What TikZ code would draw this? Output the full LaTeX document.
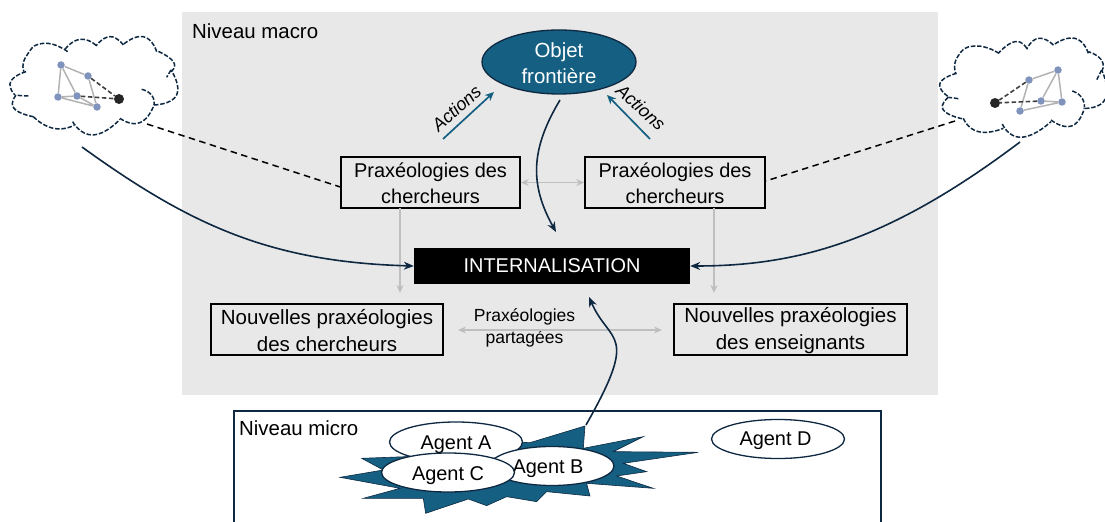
\documentclass[tikz,border=0pt]{standalone}
\usepackage{fontspec}
\setmainfont{Liberation Sans}
\usetikzlibrary{arrows.meta,shapes.geometric}
\definecolor{teal}{HTML}{156082}
\definecolor{navy}{HTML}{0E2841}
\definecolor{panel}{HTML}{E8E8E8}
\definecolor{arrowgray}{HTML}{BFBFBF}
\definecolor{dot}{HTML}{7F93BC}
\tikzset{
  x=1bp,y=-1bp,
  base/.style={font=\fontsize{20}{26.5}\selectfont},
  wide/.style={font=\fontsize{20.6}{26.5}\selectfont},
  praxbox/.style={draw=black,line width=1.5bp,fill=none,align=center,minimum height=51bp,inner sep=0pt},
  agent/.style={base,ellipse,draw=navy,line width=1.3bp,fill=white,inner sep=0pt},
  grayarrow/.style={draw=arrowgray,line width=1.6bp,-{Stealth[length=8bp,width=7bp]}},
  grayboth/.style={draw=arrowgray,line width=1.6bp,{Stealth[length=8bp,width=7bp]}-{Stealth[length=8bp,width=7bp]}},
  navyarrow/.style={draw=navy,line width=1.6bp,-{Stealth[length=10bp,width=8bp]}},
  actionarrow/.style={draw=teal,line width=1.7bp,-{Stealth[length=9bp,width=8bp]}},
  dashline/.style={draw=black,line width=1.5bp,dash pattern=on 6.5bp off 4.5bp},
  cloudline/.style={draw=navy,line width=1.5bp,dash pattern=on 4.5bp off 1.8bp},
  lobe/.style={cloudline,smooth,tension=1},
  mesh/.style={draw=black!30,line width=1.5bp},
  meshdash/.style={draw=black!75,line width=1.6bp,dash pattern=on 4.5bp off 2.5bp},
  meshdot/.style={circle,fill=dot,inner sep=0pt,minimum size=7.5bp},
  blackdot/.style={circle,fill=black!85,inner sep=0pt,minimum size=10bp},
  label/.style={anchor=west,inner sep=0pt,font=\fontsize{20.5}{26}\selectfont}
}
\begin{document}
\begin{tikzpicture}
\useasboundingbox (0,0) rectangle (1105,522);
\fill[panel] (182,12) rectangle (938,395);
\draw[navy,line width=1.6bp] (234,522)--(234,411)--(881,411)--(881,522);
\node[label] (macro) at (192,31) {Niveau macro};
\node[label] (micro) at (239,428) {Niveau micro};
% left cloud
\begin{scope}[shift={(0,20)},x=0.3333bp,y=-0.3333bp]
\draw[lobe] plot coordinates {(78,155) (32,185) (45,225)};
\draw[cloudline] (85,228) -- (48,226);
\draw[lobe] plot coordinates {(48,226) (42,265) (100,290)};
\draw[lobe] plot coordinates {(100,290) (160,325) (222,316)};
\draw[lobe] plot coordinates {(218,305) (280,345) (360,298)};
\draw[lobe] plot coordinates {(360,295) (420,308) (462,255)};
\draw[lobe] plot coordinates {(425,208) (455,225) (462,255)};
\draw[lobe] plot coordinates {(462,255) (530,225) (513,150)};
\draw[cloudline] (513,150) -- (500,172);
\draw[lobe] plot coordinates {(513,155) (520,125) (470,92)};
\draw[lobe] plot coordinates {(470,95) (430,50) (368,75)};
\draw[lobe] plot coordinates {(370,75) (330,50) (288,78)};
\draw[lobe] plot coordinates {(288,76) (240,58) (195,88)};
\draw[lobe] plot coordinates {(203,95) (130,70) (78,110) (72,155)};
\end{scope}
% right cloud
\begin{scope}[shift={(925,20)},x=0.3333bp,y=-0.3333bp]
\draw[lobe] plot coordinates {(95,160) (45,190) (70,230)};
\draw[cloudline] (100,236) -- (70,232);
\draw[lobe] plot coordinates {(70,232) (55,270) (115,297)};
\draw[lobe] plot coordinates {(115,295) (160,335) (235,325)};
\draw[lobe] plot coordinates {(232,312) (290,352) (378,305)};
\draw[lobe] plot coordinates {(378,300) (440,318) (478,265)};
\draw[lobe] plot coordinates {(442,213) (470,232) (478,262)};
\draw[lobe] plot coordinates {(480,265) (542,235) (530,150)};
\draw[cloudline] (530,150) -- (515,180);
\draw[lobe] plot coordinates {(530,155) (530,120) (490,95)};
\draw[lobe] plot coordinates {(490,100) (450,55) (385,75)};
\draw[lobe] plot coordinates {(385,75) (340,55) (305,88)};
\draw[lobe] plot coordinates {(305,85) (270,65) (220,100)};
\draw[lobe] plot coordinates {(222,100) (150,78) (98,110) (92,160)};
\end{scope}
% left mesh
\node[meshdot] (la) at (61,65) {};
\node[meshdot] (lb) at (88,76) {};
\node[meshdot] (lc) at (58,97) {};
\node[meshdot] (ld) at (77,96) {};
\node[meshdot] (le) at (97,107) {};
\node[blackdot] (lk) at (119,99) {};
\draw[mesh] (la)--(lb) (la)--(lc) (la)--(ld) (lb)--(le) (lc)--(ld) (lc)--(le) (ld)--(le);
\draw[meshdash] (lb)--(lk) (ld)--(lk);
% right mesh
\node[meshdot] (ra) at (1058,70) {};
\node[meshdot] (rb) at (1029,80) {};
\node[meshdot] (rc) at (1062,102) {};
\node[meshdot] (rd) at (1041,101) {};
\node[meshdot] (re) at (1020,111) {};
\node[blackdot] (rk) at (995,103) {};
\draw[mesh] (ra)--(rb) (ra)--(rc) (ra)--(rd) (rb)--(re) (re)--(rc) (rd)--(rc);
\draw[meshdash] (rb)--(rk) (rd)--(rk);
% main nodes
\node[ellipse,fill=teal,draw=navy,line width=1.3bp,minimum width=154bp,minimum height=64bp,inner sep=0pt] (objet) at (559,62) {};
\node[text=white,align=center,inner sep=0pt,font=\fontsize{20.5}{26.5}\selectfont] (objett) at (559,63.5) {Objet\\frontière};
\node[praxbox,minimum width=179bp] (p1) at (430.5,182.5) {};
\node[base,align=center,inner sep=0pt] (p1t) at (430.5,183.5) {Praxéologies des\\chercheurs};
\node[praxbox,minimum width=180bp] (p2) at (675,182.5) {};
\node[base,align=center,inner sep=0pt] (p2t) at (675,183.5) {Praxéologies des\\chercheurs};
\node[base,fill=black,text=white,minimum width=276bp,minimum height=36bp,inner sep=0pt] (int) at (552,266) {INTERNALISATION};
\node[praxbox,minimum width=232bp] (n1) at (327,329.5) {};
\node[wide,align=center,inner sep=0pt] (n1t) at (327,330.5) {Nouvelles praxéologies\\des chercheurs};
\node[praxbox,minimum width=233bp] (n2) at (790.5,329.5) {};
\node[wide,align=center,inner sep=0pt] (n2t) at (790.5,330.5) {Nouvelles praxéologies\\des enseignants};
\node[font=\fontsize{17.6}{22}\selectfont,align=center,inner sep=0pt] (shared) at (524.5,328) {Praxéologies\\partagées};
% gray arrows
\coordinate (p1b) at (400,208); \coordinate (p1e) at (400,293);
\coordinate (p2b) at (714,208); \coordinate (p2e) at (714,293);
\coordinate (sl) at (458,330); \coordinate (sr) at (662,330);
\draw[grayarrow] (p1b)--(p1e);
\draw[grayarrow] (p2b)--(p2e);
\draw[grayboth] (p1.east)--(p2.west);
\draw[grayboth] (sl)--(sr);
% actions
\coordinate (al) at (443,139); \coordinate (alt) at (494,92);
\coordinate (ar) at (650,139); \coordinate (art) at (607,95);
\draw[actionarrow] (al)--(alt);
\draw[actionarrow] (ar)--(art);
\node[font=\fontsize{18}{20}\selectfont\itshape,rotate=42,inner sep=0pt] (actl) at (456.5,108.5) {Actions};
\node[font=\fontsize{18}{20}\selectfont\itshape,rotate=-42,inner sep=0pt] (actr) at (641,107.5) {Actions};
% dashed links
\coordinate (cl) at (147,124); \coordinate (cr) at (955,121);
\draw[dashline] (cl)--(p1.west |- 0,187);
\draw[dashline] (cr)--(p2.east |- 0,181);
% starburst
\begin{scope}[shift={(330,400)},x=0.3333bp,y=-0.3333bp]
\fill[teal,draw=navy,line width=0.6bp] (600,128)--(765,78)--(760,145)--(940,110)--(850,155)--(1105,157)--(880,190)--(950,215)--(860,228)--(970,265)--(770,250)--(780,288)--(650,275)--(620,305)--(530,290)--(470,317)--(415,297)--(287,340)--(280,295)--(100,295)--(210,265)--(30,232)--(160,210)--(95,175)--(230,170)--(400,120)--cycle;
\end{scope}
\node[agent,minimum width=133bp,minimum height=40bp] (aa) at (456,442) {};
\node[base,inner sep=0pt] (aat) at (456,445) {Agent A};
\node[agent,minimum width=124bp,minimum height=39bp] (ab) at (552,466) {};
\node[base,inner sep=0pt] (abt) at (548,468.5) {Agent B};
\node[agent,minimum width=133bp,minimum height=39bp] (ac) at (448,472.5) {};
\node[base,inner sep=0pt] (act) at (448,475.5) {Agent C};
\node[agent,minimum width=133bp,minimum height=39bp] (ad) at (778,439) {};
\node[base,inner sep=0pt] (adt) at (775.5,441) {Agent D};
% curves
\coordinate (ol) at (560,100); \coordinate (il) at (556,232);
\coordinate (cll) at (82,147); \coordinate (crr) at (1020,142);
\coordinate (bs) at (586,425); \coordinate (be) at (589,297);
\draw[navyarrow] (ol) .. controls (530,150) and (530,185) .. (il);
\draw[navyarrow] (cll) .. controls (190,225) and (270,262) .. (int.west);
\draw[navyarrow] (crr) .. controls (890,240) and (800,266) .. (int.east);
\draw[navyarrow] (bs) .. controls (640,330) and (610,345) .. (be);
\end{tikzpicture}
\end{document}
